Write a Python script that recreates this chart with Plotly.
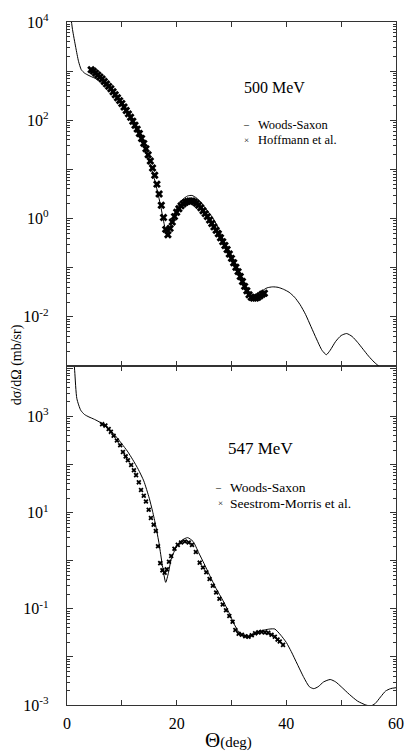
import plotly.graph_objects as go

# ---------------- data (angles in degrees, cross sections as log10(mb/sr)) ----------------
ws500_theta = [0.6, 1.0, 1.6, 2.1, 2.6, 3.2, 4.0, 5.0, 6.0, 7.0, 8.0, 9.0, 10.0, 11.0, 12.0, 13.0,
               14.0, 15.0, 16.0, 17.0, 17.7, 18.3, 18.8, 19.4, 20.2, 21.0, 22.0, 22.8, 23.6, 24.5,
               25.5, 26.5, 27.5, 28.5, 29.5, 30.5, 31.5, 32.5, 33.3, 34.0, 34.8, 35.6, 36.5, 37.5,
               38.5, 39.5, 40.5, 41.5, 42.5, 43.5, 44.5, 45.5, 46.5, 47.3, 48.0, 49.0, 50.0, 51.0,
               52.0, 53.0, 54.0, 55.0, 56.0, 57.0, 58.0]
ws500_log10 = [4.2, 3.85, 3.48, 3.2, 3.03, 2.96, 2.91, 2.86, 2.8, 2.72, 2.62, 2.48, 2.33, 2.15, 1.95,
               1.73, 1.46, 1.15, 0.78, 0.3, -0.1, -0.36, -0.2, 0.03, 0.25, 0.38, 0.46, 0.47, 0.42,
               0.32, 0.17, 0.03, -0.17, -0.42, -0.66, -0.9, -1.14, -1.36, -1.5, -1.55, -1.53, -1.47,
               -1.41, -1.39, -1.4, -1.44, -1.5, -1.6, -1.75, -1.95, -2.2, -2.45, -2.68, -2.77, -2.68,
               -2.5, -2.38, -2.34, -2.4, -2.52, -2.66, -2.8, -2.92, -3.02, -3.15]

hoff_theta = [4.4, 4.8, 5.2, 5.6, 6.0, 6.4, 6.8, 7.2, 7.6, 8.0, 8.4, 8.8, 9.2, 9.6, 10.0, 10.4,
              10.8, 11.2, 11.6, 12.0, 12.4, 12.8, 13.2, 13.6, 14.0, 14.4, 14.8, 15.2, 15.6, 16.0,
              16.4, 16.8, 17.2, 17.6, 18.0, 18.4, 18.8, 19.2, 19.6, 20.0, 20.4, 20.8, 21.2, 21.6,
              22.0, 22.4, 22.8, 23.2, 23.6, 24.0, 24.4, 24.8, 25.2, 25.6, 26.0, 26.4, 26.8, 27.2,
              27.6, 28.0, 28.4, 28.8, 29.2, 29.6, 30.0, 30.4, 30.8, 31.2, 31.6, 32.0, 32.4, 32.8,
              33.2, 33.6, 34.0, 34.4, 34.8, 35.2, 35.6, 36.0]
hoff_log10 = [3.03, 3.0, 2.96, 2.92, 2.88, 2.84, 2.79, 2.74, 2.69, 2.64,
              2.58, 2.52, 2.46, 2.4, 2.34, 2.27, 2.2, 2.13, 2.06, 1.98,
              1.9, 1.82, 1.73, 1.63, 1.53, 1.42, 1.3, 1.17, 1.03, 0.88,
              0.7, 0.5, 0.27, 0.02, -0.22, -0.33, -0.2, -0.07, 0.04, 0.13,
              0.2, 0.26, 0.3, 0.33, 0.35, 0.36, 0.36, 0.34, 0.31, 0.27,
              0.22, 0.16, 0.1, 0.04, -0.03, -0.1, -0.17, -0.24, -0.31, -0.39,
              -0.47, -0.55, -0.63, -0.72, -0.81, -0.9, -0.99, -1.08, -1.18, -1.28,
              -1.38, -1.47, -1.55, -1.6, -1.62, -1.62, -1.6, -1.57, -1.54, -1.52]

ws547_theta = [1.0, 1.4, 1.8, 2.5, 3.2, 4.0, 5.0, 6.3, 7.5, 8.8, 10.0, 11.0, 12.0, 13.0, 14.0,
               15.0, 15.6, 16.2, 16.8, 17.4, 18.0, 18.5, 19.0, 20.0, 21.0, 22.0, 23.0, 24.0, 25.0,
               26.0, 27.2, 28.4, 29.5, 30.5, 31.3, 32.2, 33.1, 34.0, 35.0, 36.0, 37.0, 37.9, 39.0,
               40.0, 40.9, 42.0, 43.2, 44.2, 45.0, 45.8, 46.8, 48.0, 49.0, 50.0, 51.5, 53.0, 54.5,
               55.4, 56.2, 57.2, 58.1, 59.0, 60.0]
ws547_log10 = [4.6, 3.95, 3.37, 3.13, 3.04, 2.99, 2.94, 2.86, 2.75, 2.6, 2.43, 2.28, 2.1, 1.9, 1.66,
               1.3, 1.03, 0.72, 0.35, -0.1, -0.45, -0.25, 0.03, 0.3, 0.43, 0.48, 0.4, 0.17, -0.06,
               -0.3, -0.58, -0.82, -1.07, -1.32, -1.48, -1.57, -1.58, -1.54, -1.48, -1.44, -1.42,
               -1.42, -1.55, -1.7, -1.89, -2.15, -2.43, -2.62, -2.66, -2.62, -2.52, -2.47, -2.52,
               -2.62, -2.78, -2.92, -3.0, -3.02, -2.97, -2.83, -2.71, -2.66, -2.64]

sm_theta = [6.4, 7.0, 7.6, 8.0, 8.5, 9.1, 9.7, 10.2, 10.7, 11.1, 11.7, 12.2, 12.6, 13.1, 13.5,
            14.0, 14.4, 14.9, 15.3, 15.8, 16.2, 16.6, 17.0, 17.4, 17.8, 18.2, 18.6, 19.0, 19.6,
            20.2, 20.8, 21.5, 22.2, 22.8, 23.5, 24.2, 24.8, 25.4, 26.0, 26.6, 27.2, 27.8, 28.4,
            29.0, 29.6, 30.2, 30.7, 31.3, 31.9, 32.5, 33.1, 33.7, 34.3, 34.9, 35.5, 36.1, 36.7,
            37.3, 37.9, 38.4, 38.8, 39.4]
sm_log10 = [2.84, 2.81, 2.74, 2.68, 2.6, 2.5, 2.4, 2.26, 2.17, 2.09, 1.99, 1.88, 1.78, 1.63, 1.47,
            1.35, 1.23, 1.06, 0.89, 0.75, 0.62, 0.3, -0.05, -0.2, -0.25, -0.18, -0.02, 0.1, 0.25,
            0.33, 0.38, 0.4, 0.38, 0.33, 0.18, -0.04, -0.14, -0.24, -0.38, -0.52, -0.66, -0.79,
            -0.91, -1.03, -1.15, -1.27, -1.44, -1.52, -1.54, -1.57, -1.58, -1.55, -1.51, -1.49,
            -1.48, -1.49, -1.5, -1.54, -1.58, -1.64, -1.68, -1.75]

x_tickvals = [0, 10, 20, 30, 40, 50, 60]
x_ticktext = ["0", " ", "20", " ", "40", " ", "60"]
top_ytickvals = [1e-3, 1e-2, 1e-1, 1, 1e1, 1e2, 1e3, 1e4]
top_yticktext = [" ", "10<sup>-2</sup>", " ", "10<sup>0</sup>", " ", "10<sup>2</sup>", " ", "10<sup>4</sup>"]
bot_ytickvals = [1e-3, 1e-2, 1e-1, 1, 1e1, 1e2, 1e3, 1e4]
bot_yticktext = ["10<sup>-3</sup>", " ", "10<sup>-1</sup>", " ", "10<sup>1</sup>", " ", "10<sup>3</sup>", " "]


def lin(vals):
    return [10 ** v for v in vals]


FONT = "Liberation Serif, Times New Roman, serif"

fig = go.Figure()
# top panel (500 MeV)
fig.add_trace(go.Scatter(x=ws500_theta, y=lin(ws500_log10), mode="lines",
                         line=dict(color="black", width=1, shape="spline", smoothing=0.6),
                         xaxis="x2", yaxis="y2", showlegend=False))
fig.add_trace(go.Scatter(x=hoff_theta, y=lin(hoff_log10), mode="markers",
                         marker=dict(symbol="x", size=7, color="black", line=dict(width=0)),
                         xaxis="x2", yaxis="y2", showlegend=False))
# bottom panel (547 MeV)
fig.add_trace(go.Scatter(x=ws547_theta, y=lin(ws547_log10), mode="lines",
                         line=dict(color="black", width=1, shape="spline", smoothing=0.6),
                         xaxis="x", yaxis="y", showlegend=False))
fig.add_trace(go.Scatter(x=sm_theta, y=lin(sm_log10), mode="markers",
                         marker=dict(symbol="x", size=4.5, color="black", line=dict(width=0)),
                         xaxis="x", yaxis="y", showlegend=False))

axis_common = dict(showline=True, linecolor="#333", linewidth=1.2, mirror="ticks",
                   ticks="inside", tickcolor="#333", showgrid=False, zeroline=False,
                   tickfont=dict(family=FONT, size=16, color="black"))

split = 1 - 348 / 691

fig.update_layout(
    width=415, height=752,
    margin=dict(l=67, r=11, t=14, b=47, pad=0),
    paper_bgcolor="white", plot_bgcolor="white",
    showlegend=False,
    xaxis=dict(domain=[0, 1], range=[0, 60], tickmode="array", tickvals=x_tickvals,
               ticktext=x_ticktext, ticklen=5, anchor="y", ticklabelstandoff=4, **axis_common),
    yaxis=dict(domain=[0, split], type="log", range=[-3, 4.05], tickmode="array",
               tickvals=bot_ytickvals, ticktext=bot_yticktext, ticklen=6, anchor="x",
               ticklabelstandoff=14,
               minor=dict(ticks="inside", ticklen=3, tickcolor="#333", dtick="D1", showgrid=False),
               **axis_common),
    xaxis2=dict(domain=[0, 1], range=[0, 60], tickmode="array", tickvals=x_tickvals,
                ticktext=x_ticktext, ticklen=5, anchor="y2", showticklabels=False,
                matches="x", **axis_common),
    yaxis2=dict(domain=[split, 1], type="log", range=[-3, 4], tickmode="array",
                tickvals=top_ytickvals, ticktext=top_yticktext, ticklen=6, anchor="x2",
                ticklabelstandoff=14,
                minor=dict(ticks="inside", ticklen=3, tickcolor="#333", dtick="D1", showgrid=False),
                **axis_common),
)


def px(x):
    return (x - 67) / 337


def py(y):
    return (705 - y) / 691


anns = [
    dict(text="500 MeV", x=px(280), y=py(80), size=16, xanchor="center"),
    dict(text="–", x=px(251), y=py(118), size=10, xanchor="center"),
    dict(text="Woods-Saxon", x=px(261), y=py(118), size=12.5, xanchor="left"),
    dict(text="×", x=px(251), y=py(133), size=9, xanchor="center"),
    dict(text="Hoffmann et al.", x=px(261), y=py(133), size=12.5, xanchor="left"),
    dict(text="547 MeV", x=px(265.5), y=py(445), size=17, xanchor="center"),
    dict(text="–", x=px(222), y=py(485), size=10, xanchor="center"),
    dict(text="Woods-Saxon", x=px(232), y=py(485), size=13.5, xanchor="left"),
    dict(text="×", x=px(224), y=py(501), size=9, xanchor="center"),
    dict(text="Seestrom-Morris et al.", x=px(232), y=py(501), size=13.5, xanchor="left"),
]
for a in anns:
    fig.add_annotation(text=a["text"], x=a["x"], y=a["y"], xref="paper", yref="paper",
                       xanchor=a["xanchor"], yanchor="middle", showarrow=False,
                       font=dict(family=FONT, size=a["size"], color="black"))

# axis titles
fig.add_annotation(text="dσ/dΩ (mb/sr)", x=px(16), y=py(361), xref="paper", yref="paper",
                   textangle=-90, showarrow=False, xanchor="center", yanchor="middle",
                   font=dict(family=FONT, size=14, color="black"))
fig.add_annotation(text="Θ<span style='font-size:15px'>(deg)</span>", x=px(232), y=py(740),
                   xref="paper", yref="paper", showarrow=False, xanchor="center", yanchor="middle",
                   font=dict(family=FONT, size=21, color="black"))

fig.write_html("out.html")
